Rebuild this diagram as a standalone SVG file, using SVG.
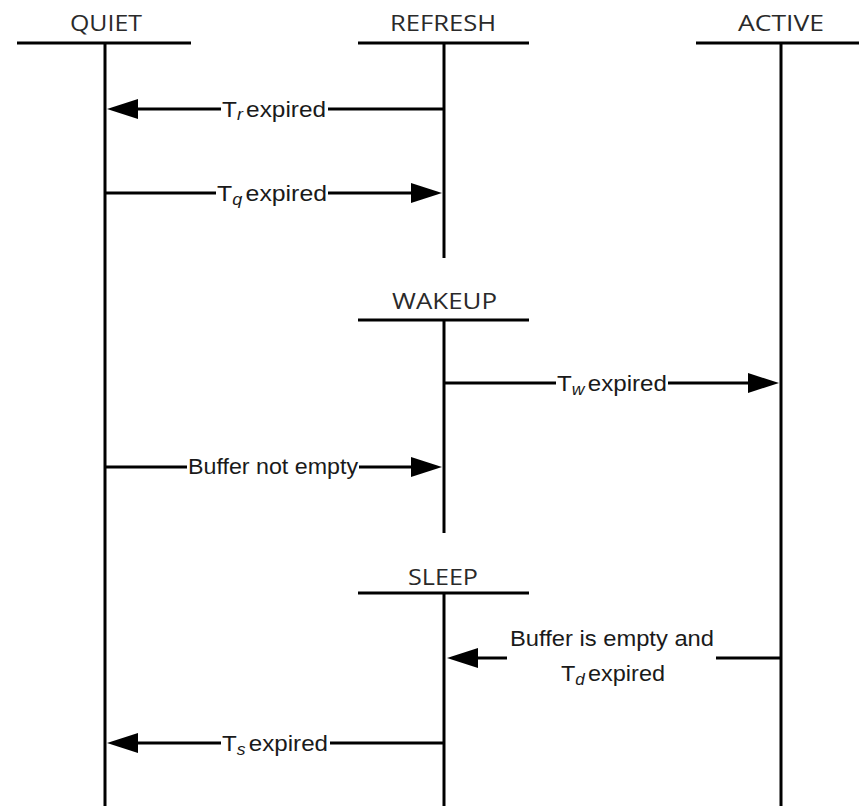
<svg xmlns="http://www.w3.org/2000/svg" width="859" height="806" viewBox="0 0 859 806">
<style>
.hdr{font-family:"Open Sans","Liberation Sans",sans-serif;font-size:22px;fill:#2a2a2a}
.lbl{font-family:"Liberation Sans",Arial,sans-serif;font-size:22px;fill:#1a1a1a}
.sub{font-style:italic;font-size:16px}
.ln{stroke:#000;stroke-width:3;fill:none}
.ah{fill:#000}
</style>
<rect width="859" height="806" fill="#fff"/>
<g id="quiet">
<text class="hdr" x="70" y="31" textLength="72" lengthAdjust="spacingAndGlyphs">QUIET</text>
<line class="ln" x1="17" y1="43" x2="191" y2="43"/>
<line class="ln" x1="105" y1="43" x2="105" y2="806"/>
</g>
<g id="refresh">
<text class="hdr" x="390" y="31" textLength="106" lengthAdjust="spacingAndGlyphs">REFRESH</text>
<line class="ln" x1="358" y1="43" x2="529" y2="43"/>
<line class="ln" x1="444" y1="43" x2="444" y2="258"/>
</g>
<g id="active">
<text class="hdr" x="738" y="31" textLength="86" lengthAdjust="spacingAndGlyphs">ACTIVE</text>
<line class="ln" x1="696" y1="43" x2="859" y2="43"/>
<line class="ln" x1="781" y1="43" x2="781" y2="806"/>
</g>
<g id="wakeup">
<text class="hdr" x="392" y="309" textLength="105" lengthAdjust="spacingAndGlyphs">WAKEUP</text>
<line class="ln" x1="358" y1="320" x2="529" y2="320"/>
<line class="ln" x1="444" y1="320" x2="444" y2="533"/>
</g>
<g id="sleep">
<text class="hdr" x="408" y="585" textLength="70" lengthAdjust="spacingAndGlyphs">SLEEP</text>
<line class="ln" x1="358" y1="593" x2="529" y2="593"/>
<line class="ln" x1="444" y1="593" x2="444" y2="806"/>
</g>
<g id="connectors">
<!-- Tr expired -->
<line class="ln" x1="444" y1="109" x2="328" y2="109"/>
<line class="ln" x1="221" y1="109" x2="130" y2="109"/>
<polygon class="ah" points="107,109 138,99 138,119"/>
<text class="lbl" x="222" y="117" textLength="104" lengthAdjust="spacingAndGlyphs">T<tspan class="sub" dy="3">r</tspan><tspan dy="-3" dx="3">expired</tspan></text>
<!-- Tq expired -->
<line class="ln" x1="105" y1="193" x2="216" y2="193"/>
<line class="ln" x1="328" y1="193" x2="415" y2="193"/>
<polygon class="ah" points="442,193 411,183 411,203"/>
<text class="lbl" x="217" y="201" textLength="110" lengthAdjust="spacingAndGlyphs">T<tspan class="sub" dy="4">q</tspan><tspan dy="-4" dx="3">expired</tspan></text>
<!-- Tw expired -->
<line class="ln" x1="444" y1="383" x2="556" y2="383"/>
<line class="ln" x1="668" y1="383" x2="752" y2="383"/>
<polygon class="ah" points="779,383 748,373 748,393"/>
<text class="lbl" x="557" y="391" textLength="110" lengthAdjust="spacingAndGlyphs">T<tspan class="sub" dy="4">w</tspan><tspan dy="-4" dx="3">expired</tspan></text>
<!-- Buffer not empty -->
<line class="ln" x1="105" y1="467" x2="187" y2="467"/>
<line class="ln" x1="359" y1="467" x2="414" y2="467"/>
<polygon class="ah" points="442,467 411,457 411,477"/>
<text class="lbl" x="188" y="474" textLength="170" lengthAdjust="spacingAndGlyphs">Buffer not empty</text>
<!-- Buffer is empty and Td expired -->
<line class="ln" x1="781" y1="658" x2="716" y2="658"/>
<line class="ln" x1="507" y1="658" x2="475" y2="658"/>
<polygon class="ah" points="447,658 478,648 478,668"/>
<text class="lbl" x="510" y="646" textLength="204" lengthAdjust="spacingAndGlyphs">Buffer is empty and</text>
<text class="lbl" x="561" y="681" textLength="104" lengthAdjust="spacingAndGlyphs">T<tspan class="sub" dy="4">d</tspan><tspan dy="-4" dx="3">expired</tspan></text>
<!-- Ts expired -->
<line class="ln" x1="444" y1="743" x2="330" y2="743"/>
<line class="ln" x1="221" y1="743" x2="130" y2="743"/>
<polygon class="ah" points="107,743 138,733 138,753"/>
<text class="lbl" x="222" y="751" textLength="106" lengthAdjust="spacingAndGlyphs">T<tspan class="sub" dy="4">s</tspan><tspan dy="-4" dx="3">expired</tspan></text>
</g>
</svg>
